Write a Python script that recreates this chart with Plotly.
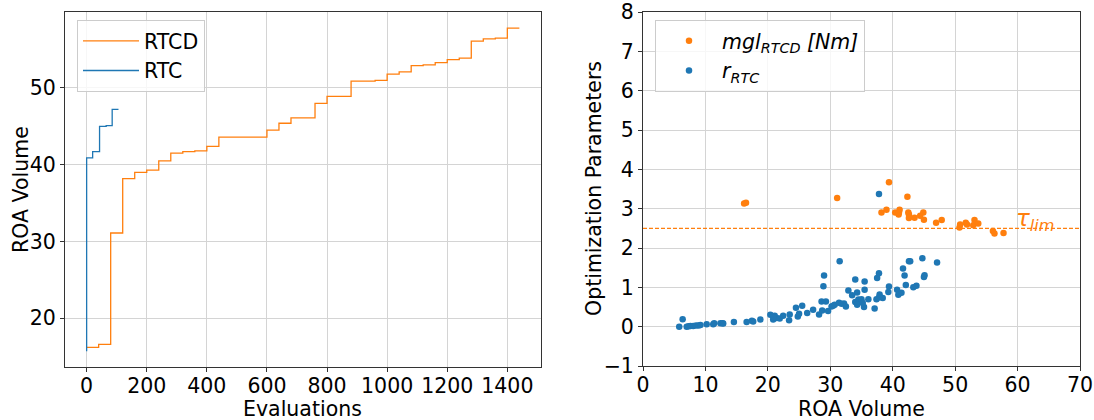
import plotly.graph_objects as go

# ---- data ----
rtc_evals = [0, 0, 20, 43, 65, 85, 106]
rtc_roa = [15.7, 40.9, 41.7, 45.0, 45.1, 47.2, 47.2]

rtcd_evals = [0, 40, 80, 120, 160, 200, 240, 280, 320, 360, 400, 440, 600, 640, 680,
              760, 800, 880, 960, 1000, 1040, 1080, 1120, 1160, 1200, 1240, 1280, 1320,
              1360, 1400, 1440]
rtcd_roa = [16.2, 16.6, 31.1, 38.2, 39.0, 39.3, 40.5, 41.5, 41.7, 41.8, 42.4, 43.6, 44.5,
            45.4, 46.1, 48.0, 48.9, 50.9, 51.0, 51.8, 52.1, 52.9, 53.0, 53.3, 53.7, 53.9,
            56.1, 56.4, 56.5, 57.8, 57.8]

mgl_roa = [16.2, 16.5, 31.1, 38.2, 39.0, 39.4, 40.4, 40.95, 41.0, 41.1, 42.35, 42.5, 42.6,
           42.6, 43.5, 44.4, 44.9, 45.0, 46.95, 47.85, 50.7, 50.8, 51.7, 51.9, 52.9, 53.1,
           53.7, 56.05, 56.3, 57.75]
mgl_param = [3.13, 3.15, 3.27, 2.90, 2.97, 3.67, 2.90, 2.85, 2.90, 2.97, 3.30, 2.90, 2.85,
             2.76, 2.77, 2.82, 2.90, 2.72, 2.64, 2.71, 2.52, 2.60, 2.64, 2.60, 2.58, 2.71,
             2.62, 2.43, 2.37, 2.38]

r_roa = [5.8, 6.35, 7.0, 7.3, 7.6, 8.05, 8.5, 8.9, 9.2, 10.2, 11.25, 11.4, 12.4, 12.75,
         12.85, 14.56, 16.6, 17.44, 17.65, 18.8, 20.4, 20.85, 21.1, 21.4, 20.9, 21.9, 22.45,
         23.5, 23.4, 24.5, 24.8, 25.0, 25.5, 26.3, 27.25, 28.2, 28.6, 28.7, 29.0, 28.9, 29.3,
         29.65, 30.2, 30.45, 30.7, 31.5, 31.4, 31.8, 32.2, 32.5, 32.9, 33.5, 34.0, 34.3, 34.0,
         34.5, 34.7, 34.3, 35.0, 35.4, 35.5, 35.5, 36.1, 35.2, 37.1, 37.5, 37.8, 37.8, 37.4,
         37.9, 38.4, 37.8, 39.3, 39.4, 40.7, 40.9, 41.4, 41.65, 41.9, 42.1, 42.6, 42.8, 43.3,
         43.8, 44.75, 45.0, 45.1, 47.1]
r_param = [0.0, 0.19, 0.0, 0.01, 0.02, 0.02, 0.03, 0.03, 0.04, 0.06, 0.06, 0.09, 0.09, 0.09,
           0.08, 0.12, 0.12, 0.15, 0.13, 0.18, 0.30, 0.18, 0.28, 0.22, 0.24, 0.21, 0.28,
           0.31, 0.16, 0.48, 0.26, 0.33, 0.53, 0.35, 0.43, 0.31, 0.64, 0.41, 1.30, 1.03, 0.64,
           0.40, 0.51, 0.53, 0.56, 1.66, 0.61, 0.58, 0.59, 0.51, 0.92, 0.80, 1.20, 0.87, 0.63,
           0.69, 0.64, 0.56, 0.70, 0.50, 0.94, 1.15, 0.70, 0.60, 0.46, 1.24, 1.36, 3.37, 0.70,
           0.82, 0.73, 0.74, 0.88, 1.02, 0.94, 0.81, 0.86, 1.48, 1.30, 1.06, 1.66, 1.66, 1.00,
           1.04, 1.74, 1.26, 1.31, 1.63]

tau_lim = 2.5

left_xticks = [0, 200, 400, 600, 800, 1000, 1200, 1400]
left_yticks = [20, 30, 40, 50]
right_xticks = [0, 10, 20, 30, 40, 50, 60, 70]
right_yticks = [-1, 0, 1, 2, 3, 4, 5, 6, 7, 8]

ORANGE = "#ff7f0e"
BLUE = "#1f77b4"
FONT = "DejaVu Sans"
FS = 20.5
W, H = 1094, 420

fig = go.Figure()

fig.add_trace(go.Scatter(x=rtcd_evals, y=rtcd_roa, mode="lines", line=dict(color=ORANGE, width=1.3, shape="hv"),
                         name="RTCD", xaxis="x", yaxis="y", legend="legend"))
fig.add_trace(go.Scatter(x=rtc_evals, y=rtc_roa, mode="lines", line=dict(color=BLUE, width=1.3, shape="hv"),
                         name="RTC", xaxis="x", yaxis="y", legend="legend"))

fig.add_trace(go.Scatter(x=mgl_roa, y=mgl_param, mode="markers", marker=dict(color=ORANGE, size=6.5),
                         name="<i>mgl</i><sub><i>RTCD</i></sub> <i>[Nm]</i>", xaxis="x2", yaxis="y2", legend="legend2"))
fig.add_trace(go.Scatter(x=r_roa, y=r_param, mode="markers", marker=dict(color=BLUE, size=6.5),
                         name="<i>r</i><sub><i>RTC</i></sub>", xaxis="x2", yaxis="y2", legend="legend2"))

axis_common = dict(showline=True, mirror=True, linecolor="#333333", linewidth=1,
                   ticks="outside", ticklen=4, tickcolor="#333333",
                   showgrid=True, gridcolor="#d4d4d4", gridwidth=1, zeroline=False,
                   tickfont=dict(family=FONT, size=FS, color="black"),
                   automargin=False)

L_DOM = [65 / W, 541 / W]
R_DOM = [643 / W, 1080 / W]

fig.update_layout(
    width=W, height=H,
    margin=dict(l=0, r=0, t=0, b=0),
    paper_bgcolor="white", plot_bgcolor="white",
    font=dict(family=FONT, size=FS, color="black"),
    xaxis=dict(domain=L_DOM, range=[-72, 1512], tickvals=left_xticks, anchor="y",
               ticklabelstandoff=-4, **axis_common),
    yaxis=dict(domain=[1 - 367 / H, 1 - 12 / H], range=[13.64, 59.9], tickvals=left_yticks, anchor="x", **axis_common),
    xaxis2=dict(domain=R_DOM, range=[0, 70], tickvals=right_xticks, anchor="y2",
                ticklabelstandoff=-4, **axis_common),
    yaxis2=dict(domain=[1 - 366 / H, 1 - 12 / H], range=[-1, 8], tickvals=right_yticks, anchor="x2", **axis_common),
    legend=dict(x=77 / W, y=1 - 20 / H, xanchor="left", yanchor="top", itemwidth=56,
                bgcolor="rgba(255,255,255,0.8)", bordercolor="#cccccc", borderwidth=1,
                font=dict(family=FONT, size=FS)),
    legend2=dict(x=655 / W, y=1 - 20 / H, xanchor="left", yanchor="top", itemwidth=56,
                 bgcolor="rgba(255,255,255,0.8)", bordercolor="#cccccc", borderwidth=1,
                 font=dict(family=FONT, size=FS)),
    showlegend=True,
)

# axis titles as text placed like the reference
title_y = 1 - 409 / H
fig.add_annotation(xref="paper", yref="paper", x=sum(L_DOM) / 2, y=title_y, text="Evaluations",
                   showarrow=False, xanchor="center", yanchor="middle", font=dict(size=FS))
fig.add_annotation(xref="paper", yref="paper", x=sum(R_DOM) / 2, y=title_y, text="ROA Volume",
                   showarrow=False, xanchor="center", yanchor="middle", font=dict(size=FS))
fig.add_annotation(xref="paper", yref="paper", x=21 / W, y=1 - 190 / H, text="ROA Volume", textangle=-90,
                   showarrow=False, xanchor="center", yanchor="middle", font=dict(size=FS))
fig.add_annotation(xref="paper", yref="paper", x=594 / W, y=1 - 189 / H, text="Optimization Parameters",
                   textangle=-90, showarrow=False, xanchor="center", yanchor="middle", font=dict(size=FS))

fig.add_shape(type="line", xref="x2 domain", yref="y2", x0=0, x1=1, y0=tau_lim, y1=tau_lim,
              line=dict(color=ORANGE, width=1.2, dash="4px,2px"))
fig.add_annotation(xref="x2", yref="y2", x=59.5, y=tau_lim, text="<i>τ</i><sub><i>lim</i></sub>",
                   showarrow=False, xanchor="left", yanchor="middle", yshift=8,
                   font=dict(family=FONT, size=23, color=ORANGE))

fig.write_html("out.html")
